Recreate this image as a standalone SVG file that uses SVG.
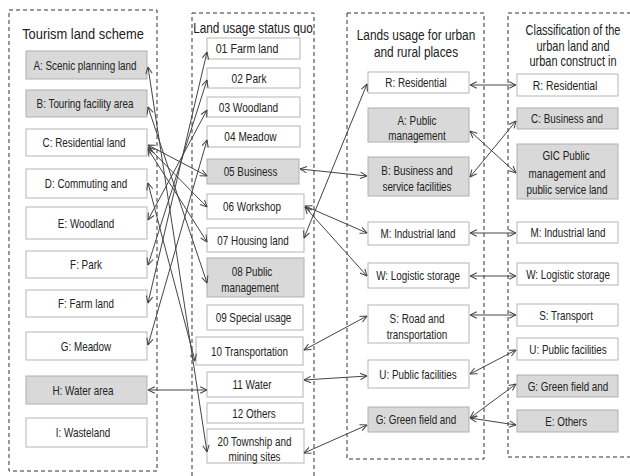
<svg xmlns="http://www.w3.org/2000/svg" width="630" height="476" viewBox="0 0 630 476">
<style>
.panel{fill:none;stroke:#333;stroke-width:1;stroke-dasharray:4,3}
.bw{fill:#fff;stroke:#b5b5b5;stroke-width:1}
.bg{fill:#d9d9d9;stroke:#b0b0b0;stroke-width:1}
text{font-family:"Liberation Sans",Arial,sans-serif;fill:#222;text-anchor:middle}
.t{font-size:13px}
.h{font-size:15px}
.c line{stroke:#444;stroke-width:1;marker-start:url(#ah);marker-end:url(#ah)}
</style>
<defs>
<marker id="ah" viewBox="0 0 10 10" refX="9.5" refY="5" markerWidth="8" markerHeight="8" markerUnits="userSpaceOnUse" orient="auto-start-reverse">
<path d="M1,1 L9.5,5 L1,9" fill="none" stroke="#444" stroke-width="1.3"/>
</marker>
</defs>
<rect width="630" height="476" fill="#fff"/>
<g id="panels">
<rect class="panel" x="9" y="10" width="148" height="461"/>
<rect class="panel" x="192" y="13" width="122" height="470"/>
<rect class="panel" x="347" y="13" width="137" height="446"/>
<rect class="panel" x="508" y="13" width="130" height="444"/>
</g>
<g id="titles">
<text class="h" transform="translate(83,39) scale(0.86,1)">Tourism land scheme</text>
<text class="h" transform="translate(253,33) scale(0.79,1)">Land usage status quo</text>
<text class="h" transform="translate(416,40) scale(0.79,1)">Lands usage for urban</text>
<text class="h" transform="translate(416,57) scale(0.79,1)">and rural places</text>
<text class="h" transform="translate(573,35) scale(0.73,1)">Classification of the</text>
<text class="h" transform="translate(573,50.5) scale(0.73,1)">urban land and</text>
<text class="h" transform="translate(573,66) scale(0.73,1)">urban construct in</text>
</g>
<!-- column 1 -->
<g id="c1A"><rect class="bg" x="26" y="51" width="121" height="28"/><text class="t" transform="translate(85,69.5) scale(0.76,1)">A: Scenic planning land</text></g>
<g id="c1B"><rect class="bg" x="26" y="90" width="121" height="27"/><text class="t" transform="translate(85,108) scale(0.76,1)">B: Touring facility area</text></g>
<g id="c1C"><rect class="bw" x="26" y="129" width="121" height="27"/><text class="t" transform="translate(84,147) scale(0.76,1)">C: Residential land</text></g>
<g id="c1D"><rect class="bw" x="26" y="169" width="121" height="29"/><text class="t" transform="translate(86,188) scale(0.76,1)">D: Commuting and</text></g>
<g id="c1E"><rect class="bw" x="26" y="207" width="121" height="32"/><text class="t" transform="translate(86,227.5) scale(0.76,1)">E: Woodland</text></g>
<g id="c1F1"><rect class="bw" x="26" y="251" width="121" height="27"/><text class="t" transform="translate(86,269) scale(0.76,1)">F: Park</text></g>
<g id="c1F2"><rect class="bw" x="26" y="290" width="121" height="27"/><text class="t" transform="translate(86,308) scale(0.76,1)">F: Farm land</text></g>
<g id="c1G"><rect class="bw" x="26" y="332" width="121" height="28"/><text class="t" transform="translate(86,350.5) scale(0.76,1)">G: Meadow</text></g>
<g id="c1H"><rect class="bg" x="26" y="376" width="121" height="28"/><text class="t" transform="translate(83,394.5) scale(0.76,1)">H: Water area</text></g>
<g id="c1I"><rect class="bw" x="26" y="418" width="121" height="29"/><text class="t" transform="translate(83,437) scale(0.76,1)">I: Wasteland</text></g>
<!-- column 2 -->
<g id="c2_01"><rect class="bw" x="207" y="38" width="93" height="21"/><text class="t" transform="translate(247,53) scale(0.82,1)">01 Farm land</text></g>
<g id="c2_02"><rect class="bw" x="207" y="68" width="93" height="20"/><text class="t" transform="translate(249,82.5) scale(0.78,1)">02 Park</text></g>
<g id="c2_03"><rect class="bw" x="207" y="97" width="93" height="20"/><text class="t" transform="translate(248.5,111.5) scale(0.78,1)">03 Woodland</text></g>
<g id="c2_04"><rect class="bw" x="207" y="126" width="93" height="21"/><text class="t" transform="translate(250.5,141) scale(0.78,1)">04 Meadow</text></g>
<g id="c2_05"><rect class="bg" x="207" y="159" width="92" height="25"/><text class="t" transform="translate(250.5,176) scale(0.76,1)">05 Business</text></g>
<g id="c2_06"><rect class="bw" x="207" y="194" width="97" height="25"/><text class="t" transform="translate(252,211) scale(0.76,1)">06 Workshop</text></g>
<g id="c2_07"><rect class="bw" x="207" y="228" width="97" height="24"/><text class="t" transform="translate(253,244.5) scale(0.76,1)">07 Housing land</text></g>
<g id="c2_08"><rect class="bg" x="207" y="258" width="97" height="39"/><text class="t" transform="translate(252,275.5) scale(0.76,1)">08 Public</text><text class="t" transform="translate(250,292) scale(0.76,1)">management</text></g>
<g id="c2_09"><rect class="bw" x="207" y="305" width="96" height="25"/><text class="t" transform="translate(253.5,322) scale(0.76,1)">09 Special usage</text></g>
<g id="c2_10"><rect class="bw" x="196" y="337" width="107" height="28"/><text class="t" transform="translate(249.5,355.5) scale(0.76,1)">10 Transportation</text></g>
<g id="c2_11"><rect class="bw" x="207" y="372" width="96" height="25"/><text class="t" transform="translate(252,389) scale(0.76,1)">11 Water</text></g>
<g id="c2_12"><rect class="bw" x="207" y="403" width="96" height="20"/><text class="t" transform="translate(254,417.5) scale(0.76,1)">12 Others</text></g>
<g id="c2_20"><rect class="bw" x="207" y="429" width="97" height="34"/><text class="t" transform="translate(254.5,446) scale(0.76,1)">20 Township and</text><text class="t" transform="translate(254.5,461) scale(0.76,1)">mining sites</text></g>
<!-- column 3 -->
<g id="c3R"><rect class="bw" x="368" y="72" width="101" height="21"/><text class="t" transform="translate(416,87) scale(0.76,1)">R: Residential</text></g>
<g id="c3A"><rect class="bg" x="368" y="108" width="101" height="34"/><text class="t" transform="translate(417,125) scale(0.76,1)">A: Public</text><text class="t" transform="translate(417,140) scale(0.76,1)">management</text></g>
<g id="c3B"><rect class="bg" x="368" y="157" width="101" height="39"/><text class="t" transform="translate(417,174.5) scale(0.76,1)">B: Business and</text><text class="t" transform="translate(417,190.5) scale(0.76,1)">service facilities</text></g>
<g id="c3M"><rect class="bw" x="368" y="222" width="101" height="23"/><text class="t" transform="translate(418,238) scale(0.76,1)">M: Industrial land</text></g>
<g id="c3W"><rect class="bw" x="368" y="263" width="101" height="25"/><text class="t" transform="translate(418,280) scale(0.76,1)">W: Logistic storage</text></g>
<g id="c3S"><rect class="bw" x="368" y="305" width="101" height="38"/><text class="t" transform="translate(417,322.5) scale(0.76,1)">S: Road and</text><text class="t" transform="translate(417,338.5) scale(0.76,1)">transportation</text></g>
<g id="c3U"><rect class="bw" x="368" y="360" width="101" height="28"/><text class="t" transform="translate(418,378.5) scale(0.76,1)">U: Public facilities</text></g>
<g id="c3G"><rect class="bg" x="368" y="407" width="101" height="25"/><text class="t" transform="translate(416,424) scale(0.76,1)">G: Green field and</text></g>
<!-- column 4 -->
<g id="c4R"><rect class="bw" x="517" y="74" width="101" height="22"/><text class="t" transform="translate(565,89.5) scale(0.8,1)">R: Residential</text></g>
<g id="c4C"><rect class="bg" x="517" y="108" width="101" height="21"/><text class="t" transform="translate(567,123) scale(0.76,1)">C: Business and</text></g>
<g id="c4GIC"><rect class="bg" x="517" y="144" width="101" height="55"/><text class="t" transform="translate(566,159.5) scale(0.76,1)">GIC Public</text><text class="t" transform="translate(567,177.5) scale(0.76,1)">management and</text><text class="t" transform="translate(567,193.5) scale(0.76,1)">public service land</text></g>
<g id="c4M"><rect class="bw" x="517" y="222" width="101" height="21"/><text class="t" transform="translate(568,237) scale(0.76,1)">M: Industrial land</text></g>
<g id="c4W"><rect class="bw" x="517" y="263" width="101" height="22"/><text class="t" transform="translate(568,278.5) scale(0.76,1)">W: Logistic storage</text></g>
<g id="c4S"><rect class="bw" x="517" y="304" width="101" height="22"/><text class="t" transform="translate(566,319.5) scale(0.76,1)">S: Transport</text></g>
<g id="c4U"><rect class="bw" x="517" y="338" width="101" height="22"/><text class="t" transform="translate(568,353.5) scale(0.76,1)">U: Public facilities</text></g>
<g id="c4G"><rect class="bg" x="517" y="375" width="101" height="22"/><text class="t" transform="translate(568,390.5) scale(0.76,1)">G: Green field and</text></g>
<g id="c4E"><rect class="bg" x="517" y="410" width="101" height="22"/><text class="t" transform="translate(566,425.5) scale(0.76,1)">E: Others</text></g>
<g id="connectors" class="c">
<line x1="148" y1="67" x2="207" y2="452"/>
<line x1="148" y1="107" x2="207" y2="283"/>
<line x1="148" y1="145" x2="207" y2="176"/>
<line x1="148" y1="147" x2="207" y2="207"/>
<line x1="148" y1="149" x2="207" y2="242"/>
<line x1="148" y1="183" x2="195" y2="361"/>
<line x1="148" y1="220" x2="207" y2="110"/>
<line x1="148" y1="265" x2="207" y2="80"/>
<line x1="148" y1="303" x2="207" y2="52"/>
<line x1="148" y1="345" x2="207" y2="140"/>
<line x1="148" y1="390" x2="207" y2="390"/>
<line x1="300" y1="169" x2="367" y2="176"/>
<line x1="305" y1="206" x2="367" y2="233"/>
<line x1="305" y1="207" x2="367" y2="276"/>
<line x1="304" y1="238" x2="367" y2="84"/>
<line x1="304" y1="350" x2="367" y2="316"/>
<line x1="304" y1="380" x2="367" y2="376"/>
<line x1="304" y1="453" x2="367" y2="425"/>
<line x1="470" y1="85" x2="516" y2="85"/>
<line x1="470" y1="131" x2="516" y2="173"/>
<line x1="470" y1="177" x2="516" y2="121"/>
<line x1="470" y1="233" x2="516" y2="233"/>
<line x1="470" y1="276" x2="516" y2="276"/>
<line x1="470" y1="315" x2="516" y2="315"/>
<line x1="470" y1="374" x2="516" y2="350"/>
<line x1="470" y1="418" x2="516" y2="384"/>
<line x1="470" y1="418" x2="516" y2="425"/>
</g>
</svg>
